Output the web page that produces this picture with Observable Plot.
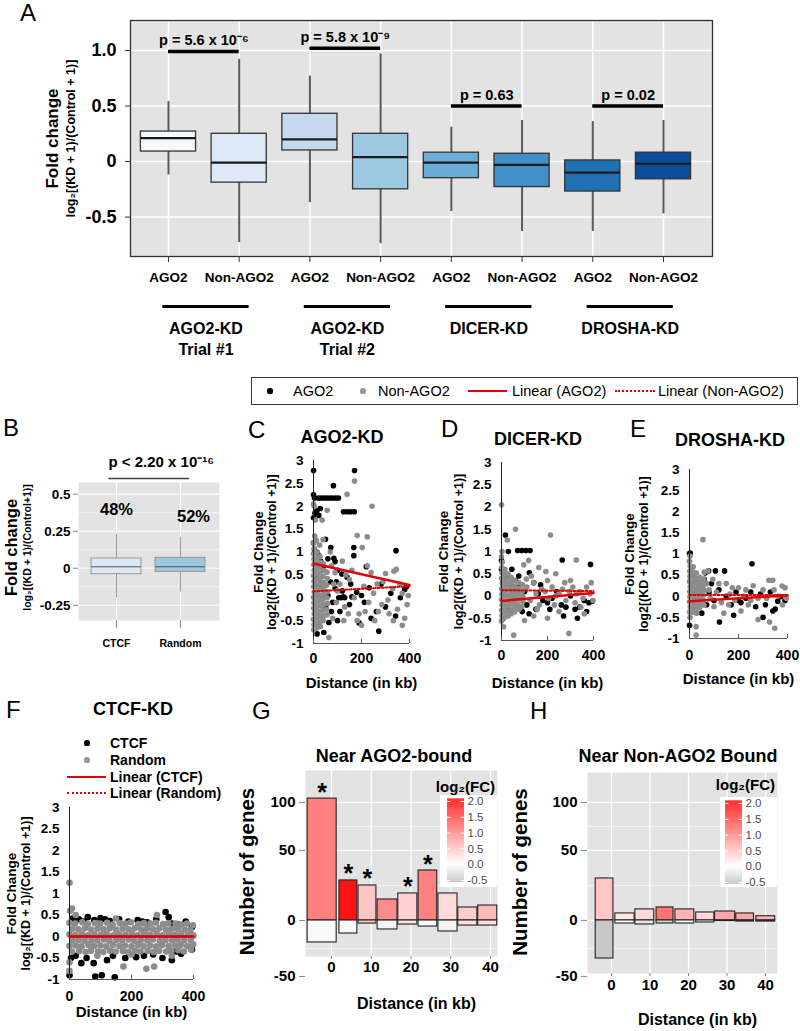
<!DOCTYPE html>
<html><head><meta charset="utf-8">
<script src="https://cdn.jsdelivr.net/npm/d3@7"></script>
<script src="https://cdn.jsdelivr.net/npm/@observablehq/plot@0.6"></script>
<style>
html,body{margin:0;padding:0;background:#fff;}
#root{position:relative;width:800px;height:1031px;overflow:hidden;font-family:"Liberation Sans",Arial,Helvetica,sans-serif;color:#000;background:#fff;}
#root svg{position:absolute;overflow:visible;}
.t{position:absolute;line-height:1;white-space:nowrap;}
.sh{position:absolute;}
</style></head><body><div id="root"></div>
<script>
// ================= DATA =================
// Panel A: boxplots
const catA   = ["AGO2","Non-AGO2","AGO2","Non-AGO2","AGO2","Non-AGO2","AGO2","Non-AGO2"];
const lowA   = [-0.12,-0.73,-0.37,-0.74,-0.45,-0.63,-0.63,-0.47];
const q1A    = [0.09,-0.19,0.10,-0.25,-0.15,-0.23,-0.27,-0.16];
const medA   = [0.21,-0.01,0.20,0.04,-0.01,-0.03,-0.10,-0.02];
const q3A    = [0.27,0.25,0.43,0.25,0.08,0.07,0.01,0.08];
const highA  = [0.54,0.92,0.77,0.97,0.31,0.37,0.36,0.37];
const colorA = ["#f5f9fe","#dde9f6","#c5d9ee","#9dc8e1","#6aadd6","#4291c6","#2070b4","#0b4d9a"];
const groupA = ["AGO2-KD\nTrial #1","AGO2-KD\nTrial #2","DICER-KD","DROSHA-KD"];
const pTextA = ["p = 5.6 x 10\u207B\u2076","p = 5.8 x 10\u207B\u2079","p = 0.63","p = 0.02"];
const pLevelA = [0.99,1.02,0.5,0.5];
const yTicksA = [-0.5,0,0.5,1.0];

// Panel B
const catB   = ["CTCF","Random"];
const lowB   = [-0.20,-0.16];
const q1B    = [-0.04,-0.025];
const medB   = [0.01,0.01];
const q3B    = [0.066,0.07];
const highB  = [0.23,0.21];
const colorB = ["#dde9f6","#9dc8e1"];
const pctB   = ["48%","52%"];
const pTextB = "p < 2.20 x 10\u207B\u00B9\u2076";
const pLevelB = 0.606;
const yTicksB = [-0.25,0,0.25,0.5];

// Scatter panels: [distance kb, fold change]
const trendX = [0,400];
const cAgo2 = [[0,2.78],[0,2.25],[4,2.18],[20,2.18],[32,2.18],[44,2.18],[56,2.18],[68,2.18],[80,2.18],[92,2.18],[104,2.18],[83,2.45],[171,2.78],[0,1.75],[6,1.85],[14,1.9],[28,1.95],[22,1.8],[125,1.88],[140,1.88],[155,1.88],[170,1.88],[0,1.2],[4,1.05],[14,1.0],[22,0.92],[50,1.28],[72,1.1],[85,0.86],[90,0.79],[168,1.1],[168,0.92],[344,1.03],[220,0.68],[387,0.24],[30,0.8],[42,0.68],[60,0.85],[100,0.6],[118,0.52],[140,0.45],[155,0.3],[180,0.12],[200,0.05],[212,-0.1],[232,0.22],[262,-0.3],[282,0.3],[300,-0.2],[322,0.1],[342,-0.4],[362,0.0],[380,0.18],[15,-0.79],[43,-0.76],[64,-0.54],[272,-0.73],[20,-0.4],[50,-0.2],[80,-0.1],[110,-0.3],[130,0.0],[150,-0.15],[90,0.2],[70,0.35],[30,0.3],[10,0.42],[100,-0.5],[190,-0.55],[240,-0.45],[120,0.15],[105,0.0],[115,0.0],[125,0.02],[160,0.02],[40,0.0],[60,0.05],[75,-0.3],[95,0.35]];
const cNon = [[1,1.2],[3,1.08],[0,0.96],[2,0.84],[1,0.72],[3,0.6],[0,0.48],[2,0.36],[1,0.24],[3,0.12],[0,0.01],[2,-0.11],[1,-0.23],[3,-0.35],[0,-0.47],[2,-0.59],[1,-0.7],
[14,1.0],[16,0.88],[13,0.76],[15,0.64],[14,0.52],[17,0.4],[13,0.28],[15,0.16],[14,0.04],[16,-0.08],[13,-0.2],[15,-0.32],[14,-0.44],[16,-0.56],[13,-0.66],
[27,0.9],[29,0.78],[26,0.66],[28,0.54],[27,0.42],[30,0.3],[26,0.18],[28,0.06],[27,-0.06],[29,-0.18],[26,-0.3],[28,-0.41],[27,-0.53],[29,-0.63],
[41,0.74],[43,0.6],[40,0.47],[42,0.34],[41,0.21],[44,0.09],[40,-0.03],[42,-0.15],[41,-0.27],[43,-0.39],[40,-0.5],
[56,0.56],[58,0.42],[55,0.28],[57,0.13],[56,0.0],[59,-0.12],[55,-0.25],[57,-0.37],
[0,2.05],[3,2.0],[8,1.7],[36,1.7],[57,1.91],[40,1.27],[140,2.26],[171,2.55],[244,2.0],[182,1.36],[224,1.33],[203,1.1],[224,0.7],[335,0.58],[300,0.53],[345,0.62],[110,0.3],[130,-0.2],[150,0.4],[170,0.0],[190,-0.35],[210,0.25],[230,-0.1],[250,0.1],[270,-0.3],[290,0.35],[310,-0.05],[330,0.2],[350,-0.25],[370,0.1],[390,-0.15],[126,-0.5],[182,-0.5],[333,-0.5],[64,-0.87],[200,-0.6],[380,-0.45],[120,0.8],[160,0.6],[240,0.55],[75,0.7],[85,0.3],[95,-0.1],[80,-0.45],[100,0.15],[135,0.5],[265,0.3],[315,-0.35],[360,0.3],[395,0.05],[5,1.35],[12,1.25],[25,1.15],[70,1.0],[90,0.55],[145,-0.35],[215,-0.3],[285,-0.15],[255,-0.5],[370,-0.6]];
const cTrendAgo2 = [0.75,0.28];
const cTrendNon  = [0.14,0.25];

const dAgo2 = [[17,1.37],[30,1.0],[70,1.02],[88,1.02],[106,1.02],[124,1.02],[264,0.81],[387,0.71],[121,0.52],[0,0.6],[5,0.3],[20,0.45],[40,0.2],[60,0.35],[80,0.25],[100,0.1],[140,0.3],[160,0.05],[180,-0.1],[200,-0.15],[220,-0.05],[240,0.1],[260,-0.2],[280,-0.25],[300,0.0],[320,-0.3],[340,-0.25],[360,-0.1],[380,-0.15],[395,-0.12],[8,-0.5],[30,-0.3],[60,-0.25],[90,-0.35],[120,-0.4],[150,-0.3],[210,-0.3],[270,-0.45],[330,-0.5],[370,-0.35],[45,0.6],[75,0.45],[0,0.8],[170,0.25],[110,-0.2]];
const dNon = [[2,1.0],[0,0.88],[3,0.76],[1,0.64],[2,0.52],[0,0.4],[3,0.28],[1,0.16],[2,0.04],[0,-0.08],[3,-0.2],[1,-0.32],[2,-0.44],[0,-0.56],[9,-0.69],
[15,0.6],[14,0.48],[16,0.36],[15,0.24],[13,0.12],[16,0.0],[14,-0.12],[15,-0.24],[16,-0.36],[14,-0.48],
[28,0.5],[27,0.38],[29,0.26],[28,0.14],[26,0.02],[29,-0.1],[27,-0.22],[28,-0.34],[29,-0.45],
[42,0.42],[41,0.3],[43,0.18],[42,0.06],[40,-0.06],[43,-0.18],[41,-0.3],[42,-0.4],
[58,0.35],[57,0.22],[59,0.1],[58,-0.02],[56,-0.14],[59,-0.26],[57,-0.36],
[75,0.3],[74,0.17],[76,0.05],[75,-0.07],[73,-0.2],[76,-0.3],
[92,0.25],[91,0.12],[93,0.0],[92,-0.12],[90,-0.24],
[0,2.05],[25,1.26],[61,1.5],[213,1.37],[53,-0.88],[97,0.7],[118,0.8],[162,0.64],[193,0.55],[236,0.5],[325,0.81],[293,-0.84],[110,0.2],[125,-0.1],[140,0.3],[150,0.05],[165,-0.2],[175,0.15],[190,0.1],[205,-0.05],[220,0.2],[235,0.0],[250,0.05],[265,0.15],[280,-0.1],[295,0.1],[310,0.2],[325,0.05],[340,0.1],[355,-0.05],[370,0.2],[385,0.05],[398,-0.1],[130,0.45],[200,0.35],[300,0.35],[390,0.3],[140,-0.45],[200,-0.5],[250,-0.35],[360,-0.4],[100,-0.55],[108,0.38],[155,-0.3],[230,-0.2],[345,-0.25],[320,-0.15],[275,0.3]];
const dTrendAgo2 = [-0.11,0.07];
const dTrendNon  = [0.13,0.11];

const eAgo2 = [[0,1.01],[3,1.02],[255,0.77],[106,0.6],[143,0.6],[372,-0.01],[390,-0.1],[0,-0.69],[122,-0.61],[10,0.5],[25,0.35],[40,0.2],[60,0.4],[80,0.1],[90,0.3],[100,-0.1],[120,0.15],[150,0.0],[170,-0.2],[190,0.1],[210,-0.15],[230,-0.05],[250,0.1],[270,-0.25],[290,0.05],[310,-0.2],[330,0.1],[350,-0.3],[20,-0.3],[50,-0.4],[70,-0.2],[180,-0.45],[300,-0.5],[340,-0.35],[5,0.0],[64,0.55],[78,0.6],[200,-0.1],[360,-0.12]];
const eNon = [[2,0.95],[0,0.83],[3,0.71],[1,0.59],[2,0.47],[0,0.35],[3,0.23],[1,0.11],[2,-0.01],[0,-0.13],[3,-0.25],[1,-0.37],[2,-0.5],
[15,0.7],[14,0.58],[16,0.46],[15,0.34],[13,0.22],[16,0.1],[14,-0.02],[15,-0.14],[16,-0.26],[14,-0.38],
[28,0.55],[27,0.43],[29,0.31],[28,0.19],[26,0.07],[29,-0.05],[27,-0.17],[28,-0.29],[29,-0.4],
[42,0.45],[41,0.33],[43,0.21],[42,0.09],[40,-0.03],[43,-0.15],[41,-0.27],
[58,0.4],[57,0.27],[59,0.15],[58,0.03],[56,-0.09],[59,-0.21],
[55,1.34],[60,0.57],[27,-0.72],[27,-0.92],[70,0.3],[85,-0.05],[95,0.4],[110,0.1],[130,-0.15],[150,0.3],[165,0.05],[185,-0.1],[200,0.2],[220,0.0],[240,-0.2],[260,0.25],[280,-0.05],[300,0.15],[324,0.38],[340,0.38],[378,0.24],[360,0.0],[380,-0.2],[327,-0.61],[348,-0.76],[140,-0.4],[210,-0.35],[280,-0.55],[390,0.2],[75,0.6],[80,0.15],[100,-0.25],[120,0.3],[175,0.2],[230,0.15],[250,-0.1],[315,-0.05],[345,0.15],[395,-0.05],[160,-0.2]];
const eTrendAgo2 = [-0.12,0.02];
const eTrendNon  = [0.03,0.03];

const fCtcf = [[10,0.42],[30,0.4],[59,0.45],[80,0.38],[100,0.43],[130,0.36],[160,0.4],[190,0.35],[220,0.38],[250,0.33],[280,0.4],[310,0.57],[330,0.3],[350,0.28],[375,0.35],[395,0.22],[0,-0.9],[38,-0.62],[78,-0.62],[83,-0.93],[104,-0.9],[121,-0.55],[146,-0.95],[180,-0.5],[215,-0.48],[240,-0.45],[270,-0.42],[300,-0.5],[330,-0.55],[360,-0.4],[5,-0.5],[20,-0.45],[55,-0.5],[395,-0.3],[140,-0.45],[45,0.35],[115,0.4],[235,0.35],[345,-0.35],[320,0.45]];
const fRandom = [[0,1.25],[2,0.6],[8,0.65],[282,0.5],[174,-0.7],[248,-0.75],[273,-0.7],[0,-0.8],[0,-0.6],[20,0.5],[330,-0.45],[200,-0.42],[90,-0.45],[150,0.42],
[0,0.32],[18,0.3],[41,0.33],[59,0.29],[82,0.31],[99,0.3],[121,0.32],[139,0.28],[162,0.31],[181,0.3],[198,0.33],[222,0.29],[240,0.31],[261,0.3],[279,0.32],[302,0.29],[319,0.31],[342,0.3],[361,0.28],[379,0.3],[398,0.26],
[9,0.18],[29,0.17],[50,0.19],[70,0.16],[91,0.18],[110,0.17],[130,0.19],[150,0.16],[171,0.18],[190,0.17],[210,0.19],[231,0.16],[250,0.18],[270,0.17],[290,0.19],[311,0.16],[330,0.18],[350,0.17],[371,0.16],[390,0.15],
[0,0.05],[19,0.04],[40,0.06],[60,0.03],[80,0.05],[101,0.04],[120,0.06],[141,0.03],[160,0.05],[180,0.04],[201,0.06],[220,0.03],[241,0.05],[259,0.04],[281,0.06],[300,0.03],[321,0.05],[340,0.04],[360,0.05],[381,0.03],[400,0.02],
[10,-0.09],[30,-0.08],[49,-0.1],[71,-0.08],[90,-0.09],[111,-0.07],[129,-0.1],[151,-0.08],[170,-0.09],[191,-0.07],[209,-0.1],[230,-0.08],[251,-0.09],[269,-0.07],[291,-0.1],[310,-0.08],[331,-0.09],[349,-0.07],[370,-0.09],[391,-0.08],
[0,-0.22],[20,-0.21],[39,-0.23],[61,-0.2],[79,-0.22],[100,-0.21],[119,-0.23],[140,-0.2],[161,-0.22],[179,-0.21],[200,-0.23],[221,-0.2],[239,-0.22],[260,-0.21],[280,-0.23],[299,-0.2],[320,-0.22],[341,-0.21],[359,-0.2],[380,-0.22],[399,-0.18],
[8,-0.35],[31,-0.34],[52,-0.36],[69,-0.33],[92,-0.35],[109,-0.36],[131,-0.33],[149,-0.35],[172,-0.34],[189,-0.36],[211,-0.33],[229,-0.35],[252,-0.34],[271,-0.36],[289,-0.33],[312,-0.35],[329,-0.34],[351,-0.32],[369,-0.35],[392,-0.3]];
const fTrendCtcf = [0,0];
const fTrendRandom = [0,0];
const xTicksS = [0,200,400];
const yTicksS = [-1,-0.5,0,0.5,1,1.5,2,2.5,3];

// Panels G / H: gene counts per distance bin (kb) and log2 fold change
const binStartG = [-6.0,2.0,6.8,11.6,16.8,21.9,26.9,31.9,36.9];
const binEndG   = [1.3,6.5,11.3,16.6,21.6,26.6,31.7,36.7,41.7];
const upG       = [104,28.6,25,15,19.3,35.7,19.3,9.3,10.7];
const downG     = [-19.6,-11.6,-2.7,-8,-3.6,-5.4,-9.8,-4.5,-4.5];
const upFcG     = [1.0,1.85,0.45,0.9,0.35,1.0,0.3,0.4,0.55];
const downFcG   = [-0.05,-0.05,0.4,-0.1,0.25,-0.05,-0.1,0.25,0.25];
const sigG      = [1,1,1,0,1,1,0,0,0];

const binStartH = [-4.1,1.0,6.2,11.7,16.6,22.0,26.9,32.4,37.6];
const binEndH   = [0.5,6.0,11.1,16.1,21.5,26.7,32.1,37.0,42.5];
const upH       = [30,5,7.9,9.3,7.9,5.7,6.4,5,3];
const downH     = [-34,-2.7,-3.6,-2.7,-2.7,-1.8,-0.5,-1,-1];
const upFcH     = [0.45,0.2,0.3,1.1,0.6,0.3,0.7,0.7,0.6];
const downFcH   = [-0.45,0.0,-0.2,-0.35,0.05,0.05,-0.2,-0.3,-0.4];
const sigH      = [0,0,0,0,0,0,0,0,0];

const yTicksGH = [-50,0,50,100];
const xTicksGH = [0,10,20,30,40];
const cbTicks  = [-0.5,0,0.5,1.0,1.5,2.0];

// ================= HELPERS =================
const root = document.getElementById("root");
const STYLE = {fontFamily:"'Liberation Sans', Arial, Helvetica, sans-serif", overflow:"visible", background:"transparent", color:"#000"};
const GRAY = "#8c8c8c", RED = "#e40000", BG = "#e3e3e3";
const COLOR = {type:"linear", domain:[-0.5,0,2], range:["#c2c2c2","#ffffff","#ff0000"]};
function put(svg, l, t){ svg.style.position="absolute"; svg.style.left=l+"px"; svg.style.top=t+"px"; root.appendChild(svg); return svg; }
function T(txt, x, y, size, o={}){
  const d=document.createElement("div"); d.className="t"; d.textContent=txt;
  const a=o.anchor||"start";
  d.style.left=x+"px"; d.style.top=y+"px"; d.style.fontSize=size+"px";
  d.style.fontWeight=o.weight||"normal"; if(o.color) d.style.color=o.color;
  d.style.transform=`translate(${a==="middle"?"-50%":a==="end"?"-100%":"0"},-50%)`;
  root.appendChild(d);
}
function shape(css){ const d=document.createElement("div"); d.className="sh"; d.style.cssText+=css; root.appendChild(d); }
function dot(cx,cy,r,c){ shape(`left:${cx-r}px;top:${cy-r}px;width:${2*r}px;height:${2*r}px;border-radius:50%;background:${c};`); }
function hline(x1,x2,y,w,c,dotted){ shape(dotted?`left:${x1}px;top:${y-w/2}px;width:${x2-x1}px;height:0;border-top:${w}px dotted ${c};`:`left:${x1}px;top:${y-w/2}px;width:${x2-x1}px;height:${w}px;background:${c};`); }
function yTitle(txt, dx, size, dy=0){ return Plot.text([txt],{text:d=>d,frameAnchor:"left",textAnchor:"middle",lineAnchor:"middle",rotate:-90,dx,dy,fontSize:size,fontWeight:"bold"}); }
function xTitle(txt, dy, size, dx=0){ return Plot.text([txt],{text:d=>d,frameAnchor:"bottom",textAnchor:"middle",lineAnchor:"middle",dx,dy,fontSize:size,fontWeight:"bold"}); }

// ================= PANEL A =================
const boxesA = catA.map((c,i)=>({i,c,low:lowA[i],q1:q1A[i],med:medA[i],q3:q3A[i],high:highA[i],color:colorA[i]}));
const pA = pTextA.map((t,k)=>({a:2*k,t,level:pLevelA[k]}));
const grpA = groupA.map((g,k)=>({a:2*k,g}));
const HWA = 0.39, yMinA = -0.855;
put(Plot.plot({
  width:800, height:360, marginLeft:130, marginRight:88, marginTop:20, marginBottom:104, style:STYLE,
  x:{domain:[-0.537,7.693]}, y:{domain:[yMinA,1.27]},
  marks:[
    Plot.frame({fill:BG}),
    Plot.ruleY(yTicksA,{stroke:"#fff",strokeWidth:1.5}),
    Plot.ruleX(d3.range(catA.length),{stroke:"#fff",strokeWidth:1.5}),
    Plot.ruleX(boxesA,{x:"i",y1:"low",y2:"high",stroke:"#5a5a5a",strokeWidth:2}),
    Plot.rect(boxesA,{x1:d=>d.i-HWA,x2:d=>d.i+HWA,y1:"q1",y2:"q3",fill:"color",stroke:"#333",strokeWidth:1.3}),
    Plot.ruleY(boxesA,{x1:d=>d.i-HWA,x2:d=>d.i+HWA,y:"med",stroke:"#1a1a1a",strokeWidth:2.2}),
    Plot.frame({stroke:"#333",strokeWidth:1.3}),
    Plot.ruleY(pA,{x1:"a",x2:d=>d.a+1,y:"level",stroke:"#000",strokeWidth:3.5}),
    Plot.text(pA,{x:d=>d.a+0.5,y:"level",text:"t",dy:-11,fontSize:14.5,fontWeight:"bold"}),
    Plot.axisY({ticks:yTicksA,tickFormat:d=>d===0?"0":d.toFixed(1),tickSize:5,tickPadding:9,fontSize:18,fontWeight:"bold",label:null,stroke:"#333"}),
    Plot.axisX({ticks:d3.range(catA.length),tickFormat:i=>catA[i],tickSize:6,tickPadding:10,fontSize:13.5,fontWeight:"bold",label:null,stroke:"#333"}),
    Plot.ruleY(grpA,{x1:d=>d.a-0.08,x2:d=>d.a+1.14,y:yMinA,dy:50,stroke:"#000",strokeWidth:3}),
    Plot.text(grpA,{x:d=>d.a+0.53,y:yMinA,text:"g",dy:63,lineAnchor:"top",lineHeight:1.3,fontSize:16,fontWeight:"bold"}),
    yTitle("Fold change",-78,17),
    yTitle("log\u2082[(KD + 1)/(Control + 1)]",-60,12.5)
  ]
}),0,0);
T("A",20,13,24);

// Legend row
shape(`left:251px;top:377px;width:547px;height:28px;border:1.5px solid #3a3a3a;box-sizing:border-box;`);
dot(270,391,2.6,"#000"); T("AGO2",293,391,14.5);
dot(363,391,2.6,"#999"); T("Non-AGO2",378,391,14.5);
hline(468,507,391,2.5,RED,false); T("Linear (AGO2)",512,391,14.5);
hline(615,655,391,2,RED,true); T("Linear (Non-AGO2)",658,391,14.5);

// ================= PANEL B =================
const boxesB = catB.map((c,i)=>({i,c,low:lowB[i],q1:q1B[i],med:medB[i],q3:q3B[i],high:highB[i],color:colorB[i]}));
const HWB = 0.39;
put(Plot.plot({
  width:232, height:215, marginLeft:78, marginRight:13, marginTop:42, marginBottom:35, style:STYLE,
  x:{domain:[-0.594,1.61]}, y:{domain:[-0.353,0.579]},
  marks:[
    Plot.frame({fill:BG}),
    Plot.ruleY([-0.125,0.125,0.375],{stroke:"#fff",strokeWidth:0.6}),
    Plot.ruleY(yTicksB,{stroke:"#fff",strokeWidth:1.2}),
    Plot.ruleX([0,1],{stroke:"#fff",strokeWidth:1.2}),
    Plot.ruleX(boxesB,{x:"i",y1:"low",y2:"high",stroke:"#9a9a9a",strokeWidth:1}),
    Plot.rect(boxesB,{x1:d=>d.i-HWB,x2:d=>d.i+HWB,y1:"q1",y2:"q3",fill:"color",stroke:"#999",strokeWidth:1}),
    Plot.ruleY(boxesB,{x1:d=>d.i-HWB,x2:d=>d.i+HWB,y:"med",stroke:"#555",strokeWidth:1.2}),
    Plot.ruleY([pLevelB],{x1:-0.12,x2:1.14,stroke:"#444",strokeWidth:1.3}),
    Plot.text([pTextB],{text:d=>d,x:0.7,y:pLevelB,dy:-16,fontSize:15,fontWeight:"bold"}),
    Plot.text([boxesB[0]],{x:"i",y:"high",text:()=>pctB[0],dy:-24,fontSize:16.5,fontWeight:"bold"}),
    Plot.text([boxesB[1]],{x:"i",y:"high",text:()=>pctB[1],dy:-20,dx:13,fontSize:16.5,fontWeight:"bold"}),
    Plot.axisY({ticks:yTicksB,tickFormat:d=>d===0?"0":String(d),tickSize:5,tickPadding:3,fontSize:13.5,fontWeight:"bold",label:null,stroke:"#888"}),
    Plot.axisX({ticks:[0,1],tickFormat:i=>catB[i],tickSize:8,tickPadding:11,fontSize:10.5,fontWeight:"bold",label:null,stroke:"#888"}),
    yTitle("Fold change",-67,16.5,-4),
    yTitle("log\u2082[(KD + 1)/(Control+1)]",-51,10.5,-4)
  ]
}),0,440);
T("B",3,428,24);

// ================= SCATTER PANELS =================
function scatter(o){
  const pxu=(o.ym1-o.y3)/4;
  const tr=v=>trendX.map((x,i)=>({x,y:v[i]}));
  const svg=Plot.plot({
    width:o.width, height:o.height,
    marginLeft:o.x0-o.left, marginRight:o.left+o.width-o.x400, marginTop:o.y3-o.top, marginBottom:o.top+o.height-o.ym1,
    style:STYLE, x:{domain:[0,400]}, y:{domain:[-1,3]},
    marks:[
      Plot.dot(o.black,{x:d=>d[0],y:d=>d[1],r:o.r,fill:"#000"}),
      Plot.dot(o.gray,{x:d=>d[0],y:d=>d[1],r:o.r,fill:GRAY}),
      Plot.ruleX([0],{y1:-1,y2:3,stroke:"#222",strokeWidth:1}),
      Plot.ruleY([-1],{x1:0,x2:400,stroke:"#555",strokeWidth:1}),
      Plot.ruleX(xTicksS,{y1:-1,y2:-1+4/pxu,stroke:"#555"}),
      Plot.line(tr(o.trendN),{x:"x",y:"y",stroke:RED,strokeWidth:2,strokeDasharray:"2,2"}),
      Plot.line(tr(o.trendA),{x:"x",y:"y",stroke:RED,strokeWidth:2.5}),
      Plot.axisY({ticks:yTicksS,tickFormat:d=>String(d),tickSize:0,tickPadding:10,fontSize:13.5,fontWeight:"bold",label:null}),
      Plot.axisX({ticks:xTicksS,tickFormat:d=>String(d),tickSize:0,tickPadding:o.xPad,fontSize:14,fontWeight:"bold",label:null}),
      yTitle(o.t1,o.t1dx,13.5),
      yTitle(o.t2,o.t2dx,12.5),
      xTitle("Distance (in kb)",o.distDy,15)
    ]
  });
  put(svg,o.left,o.top);
}
const LOG2C = "log2[(KD + 1)/(Control +1)]";
scatter({left:240,top:450,width:175,height:245,x0:313,x400:409,y3:460,ym1:643,r:2.8,black:cAgo2,gray:cNon,trendA:cTrendAgo2,trendN:cTrendNon,xPad:10,t1:"Fold Change",t2:LOG2C,t1dx:-55,t2dx:-42,distDy:40});
scatter({left:425,top:450,width:180,height:245,x0:501,x400:593,y3:462,ym1:640,r:2.8,black:dAgo2,gray:dNon,trendA:dTrendAgo2,trendN:dTrendNon,xPad:10,t1:"Fold Change",t2:LOG2C,t1dx:-58,t2dx:-43,distDy:43});
scatter({left:612,top:450,width:188,height:245,x0:689,x400:787,y3:469,ym1:638,r:2.8,black:eAgo2,gray:eNon,trendA:eTrendAgo2,trendN:eTrendNon,xPad:12,t1:"Fold Change",t2:LOG2C,t1dx:-60,t2dx:-46,distDy:41});
scatter({left:0,top:795,width:210,height:236,x0:69,x400:193,y3:807,ym1:979,r:3.3,black:fCtcf,gray:fRandom,trendA:fTrendCtcf,trendN:fTrendRandom,xPad:12,t1:"Fold Change",t2:"log\u2082[(KD + 1)/(Control +1)]",t1dx:-58,t2dx:-44,distDy:33});

T("C",248,430,24); T("D",441,429,24); T("E",630,429,24); T("F",6,710,24);
T("AGO2-KD",342,437,18,{anchor:"middle",weight:"bold"});
T("DICER-KD",538,439,18,{anchor:"middle",weight:"bold"});
T("DROSHA-KD",730,440,18,{anchor:"middle",weight:"bold"});
T("CTCF-KD",133,709,18,{anchor:"middle",weight:"bold"});
// F legend
dot(87,743,2.6,"#000"); T("CTCF",110,743,14,{weight:"bold"});
dot(87,760,2.6,"#999"); T("Random",110,760,14,{weight:"bold"});
hline(67,106,777,2.5,RED,false); T("Linear (CTCF)",110,777,14,{weight:"bold"});
hline(67,106,793,2,RED,true); T("Linear (Random)",110,793,14,{weight:"bold"});

// ================= PANELS G / H =================
// The figure's count axis is unevenly spaced (100-50: 48px, 50-0: 70px, 0 to -50: 56px);
// gy maps counts onto that axis (units of the 0..50 segment).
function gy(v){ return v>50 ? 50+(v-50)*0.96/1.4 : v>=0 ? v : v*1.12/1.4; }
function barPanel(o){
  const bars=o.s.map((s,i)=>({s,e:o.e[i],up:gy(o.up[i]),down:gy(o.down[i]),ufc:o.ufc[i],dfc:o.dfc[i],sig:o.sig[i]}));
  const tU=yTicksGH.map(gy);
  const svg=Plot.plot({
    width:o.width, height:o.height, marginLeft:o.ml, marginRight:o.mr, marginTop:o.mt, marginBottom:o.mb, style:STYLE,
    x:{domain:o.xdom}, y:{domain:o.ydom}, color:COLOR,
    marks:[
      Plot.frame({fill:BG}),
      Plot.ruleY([gy(25),gy(75),gy(-25)],{stroke:"#fff",strokeWidth:0.6}),
      Plot.ruleY([gy(0),gy(50),gy(100)],{stroke:"#fff",strokeWidth:1.3}),
      Plot.ruleX(xTicksGH,{stroke:"#fff",strokeWidth:1.3}),
      Plot.rect(bars,{x1:"s",x2:"e",y1:0,y2:"up",fill:"ufc",stroke:"#222",strokeWidth:1.1}),
      Plot.rect(bars,{x1:"s",x2:"e",y1:"down",y2:0,fill:"dfc",stroke:"#222",strokeWidth:1.1}),
      Plot.text(bars.filter(d=>d.sig),{x:d=>(d.s+d.e)/2,y:"up",text:()=>"*",dy:-6,fontSize:25,fontWeight:"bold"}),
      Plot.axisY({ticks:tU,tickFormat:u=>String(yTicksGH[tU.indexOf(u)]),tickSize:6,tickPadding:4,fontSize:15,fontWeight:"bold",label:null,stroke:"#888"}),
      Plot.axisX({ticks:xTicksGH,tickFormat:d=>String(d),tickSize:3,tickPadding:o.xPad,fontSize:15,fontWeight:"bold",label:null,stroke:"#888"}),
      yTitle("Number of genes",o.ydx,20.5,o.ydy),
      xTitle("Distance (in kb)",o.distDy,16,15)
    ]
  });
  put(svg,o.left,o.top);
}
function colorbar(x0,yTop,yBot){
  const pad=8, h=(yBot-yTop)+2*pad;
  const steps=d3.range(-0.56,2.08,0.02);
  const svg=Plot.plot({
    width:52, height:h, margin:0, style:STYLE,
    x:{domain:[0,1],range:[0,17],axis:null}, y:{domain:[-0.5,2],range:[pad+(yBot-yTop),pad],axis:null}, color:COLOR,
    marks:[
      Plot.rect(steps,{x1:0,x2:1,y1:d=>d,y2:d=>d+0.021,fill:d=>d+0.01}),
      Plot.ruleY(cbTicks,{x1:0,x2:0.2,stroke:"#fff"}),
      Plot.ruleY(cbTicks,{x1:0.8,x2:1,stroke:"#fff"}),
      Plot.text(cbTicks,{x:1,y:d=>d,text:d=>d.toFixed(1),dx:3,textAnchor:"start",fontSize:11.5,fill:"#4d4d4d"})
    ]
  });
  put(svg,x0,yTop-pad);
}
barPanel({left:240,top:700,width:270,height:331,ml:65,mr:13,mt:70,mb:75,xdom:[-6.54,41.76],ydom:[-25.7,107.1],s:binStartG,e:binEndG,up:upG,down:downG,ufc:upFcG,dfc:downFcG,sig:sigG,xPad:2,ydx:-58,ydy:8,distDy:47});
shape("left:440px;top:795px;width:57px;height:92px;background:#fff;");
colorbar(447,801,880);
T("log\u2082(FC)",495,786,15,{anchor:"end",weight:"bold"});

barPanel({left:515,top:700,width:285,height:331,ml:72,mr:23,mt:72,mb:58,xdom:[-6.23,43.1],ydom:[-37.9,105.7],s:binStartH,e:binEndH,up:upH,down:downH,ufc:upFcH,dfc:downFcH,sig:sigH,xPad:3,ydx:-67,ydy:-1,distDy:46});
shape("left:720px;top:797px;width:57px;height:90px;background:#fff;");
colorbar(725,803,882);
T("log\u2082(FC)",775,784,15,{anchor:"end",weight:"bold"});

T("G",252,711,24); T("H",530,711,24);
T("Near AGO2-bound",394,756,18,{anchor:"middle",weight:"bold"});
T("Near Non-AGO2 Bound",678,756,18,{anchor:"middle",weight:"bold"});
</script></body></html>
